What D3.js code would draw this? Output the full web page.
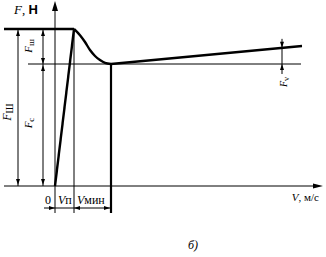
<!DOCTYPE html>
<html>
<head>
<meta charset="utf-8">
<script src="https://cdn.jsdelivr.net/npm/d3@7"></script>
<style>
  body { margin: 0; background: #fff; }
  text { font-family: "Liberation Serif", serif; fill: #000; }
</style>
</head>
<body>
<div id="chart"></div>
<script>
// force F vs velocity V (arbitrary units)
const staticForce = 10;      // Fш
const coulombForce = 7.77;   // Fc
const vStart = 0.95;         // Vп
const vMin = 2.8;            // Vмин

const stickLine = [[0, 0], [0.95, 10]];
const staticLine = [[-2.55, 10], [0.95, 10]];
const stribeckCurve = [[0.95, 10], [1.1, 9.82], [1.25, 9.6], [1.5, 9.17], [1.75, 8.66],
                       [2.0, 8.28], [2.25, 8.02], [2.5, 7.84], [2.8, 7.77]];
const viscousLine = [[2.8, 7.77], [12.35, 8.92]];

const width = 326, height = 257;

const svg = d3.select("#chart").append("svg")
    .attr("width", width)
    .attr("height", height);

const x = d3.scaleLinear().domain([-2.75, 13.4]).range([0, 323]);
const y = d3.scaleLinear().domain([0, 11.72]).range([186, 2]);

const line = d3.line().x(d => x(d[0])).y(d => y(d[1]));
const curve = d3.line().x(d => x(d[0])).y(d => y(d[1])).curve(d3.curveMonotoneX);

function seg(x1, y1, x2, y2, w) {
    svg.append("line")
        .attr("x1", x1).attr("y1", y1).attr("x2", x2).attr("y2", y2)
        .attr("stroke", "#000").attr("stroke-width", w || 1);
}

// small filled arrowhead, tip at (px,py), dir = "up" | "down" | "left" | "right"
function arrow(px, py, dir, len, half) {
    len = len || 6; half = half || 2;
    let pts;
    if (dir === "up") pts = [[px, py], [px - half, py + len], [px + half, py + len]];
    if (dir === "down") pts = [[px, py], [px - half, py - len], [px + half, py - len]];
    if (dir === "left") pts = [[px, py], [px + len, py - half], [px + len, py + half]];
    if (dir === "right") pts = [[px, py], [px - len, py - half], [px - len, py + half]];
    svg.append("path").attr("d", "M" + pts.join("L") + "Z").attr("fill", "#000");
}

const x0 = x(0), y0 = y(0);
const yS = y(staticForce), yC = y(coulombForce);
const xP = x(vStart), xM = x(vMin);

// axes
seg(x(-2.55), y0, 316, y0, 1);
arrow(323, y0, "right", 10, 2.5);
seg(x0, 213, x0, 10, 1);
arrow(x0, 1, "up", 10, 3);

// Fc level (thin)
seg(x(-1.35), yC, x(12.3), yC, 1);

// extension lines
seg(xP, yS, xP, 213, 1);
seg(xM, yC, xM, 213, 2.2);

// characteristic (thick)
const thick = (data, gen) => svg.append("path").datum(data).attr("d", gen)
    .attr("fill", "none").attr("stroke", "#000").attr("stroke-width", 2.4)
    .attr("stroke-linejoin", "round");
thick(staticLine, line);
thick(stickLine, line);
thick(stribeckCurve, curve);
thick(viscousLine, line);

// left dimension: Fш total
const dL = 18, dM = 43;
seg(dL, yS, dL, y0, 1);
arrow(dL, yS + 1, "up"); arrow(dL, y0 - 1, "down");
// Fш (upper) and Fc
seg(dM, yS, dM, y0, 1);
arrow(dM, yS + 1, "up"); arrow(dM, yC, "down");
arrow(dM, yC + 1, "up"); arrow(dM, y0 - 1, "down");

// right dimension: Fv
const dR = x(11.35);
const yV = y(viscousLine[0][1] + (viscousLine[1][1] - viscousLine[0][1]) *
    (11.35 - viscousLine[0][0]) / (viscousLine[1][0] - viscousLine[0][0]));
seg(dR, yV - 9, dR, yC + 10, 1);
arrow(dR, yV, "down"); arrow(dR, yC, "up");

// bottom dimension: Vп and Vмин
const dy = 208;
seg(44, dy, xM, dy, 1);
arrow(x0, dy, "right");
arrow(xP, dy, "left");
arrow(xM - 1, dy, "right");

// labels
function rotLabel(cx, cy, main, sub, size) {
    const t = svg.append("text")
        .attr("transform", `translate(${cx},${cy}) rotate(-90)`)
        .attr("text-anchor", "middle")
        .style("font-size", size + "px");
    t.append("tspan").style("font-style", "italic").text(main);
    t.append("tspan").attr("dy", 2).style("font-size", (size - 2) + "px").text(sub);
}
rotLabel(11, 112, "F", "Ш", 12);
rotLabel(32, 46, "F", "ш", 11);
rotLabel(32, 123, "F", "c", 11);
rotLabel(287, 82, "F", "v", 10);

const fl = svg.append("text").attr("x", 14).attr("y", 14).style("font-size", "13px");
fl.append("tspan").style("font-style", "italic").text("F");
fl.append("tspan").text(", ");
fl.append("tspan").style("font-family", "'Liberation Sans', sans-serif").style("font-weight", "bold").text("Н");

const vl = svg.append("text").attr("x", 319).attr("y", 201).attr("text-anchor", "end").style("font-size", "11px");
vl.append("tspan").style("font-style", "italic").text("V");
vl.append("tspan").text(", м/с");

svg.append("text").attr("x", 48).attr("y", 204).attr("text-anchor", "middle").style("font-size", "12px").text("0");
const vp = svg.append("text").attr("x", 58).attr("y", 204).style("font-size", "12px");
vp.append("tspan").style("font-style", "italic").text("V");
vp.append("tspan").text("п");
const vm = svg.append("text").attr("x", 77).attr("y", 204).style("font-size", "12px");
vm.append("tspan").style("font-style", "italic").text("V");
vm.append("tspan").text("мин");

svg.append("text").attr("x", 193).attr("y", 249).attr("text-anchor", "middle")
    .style("font-size", "12px").style("font-style", "italic").text("б)");
</script>
</body>
</html>
